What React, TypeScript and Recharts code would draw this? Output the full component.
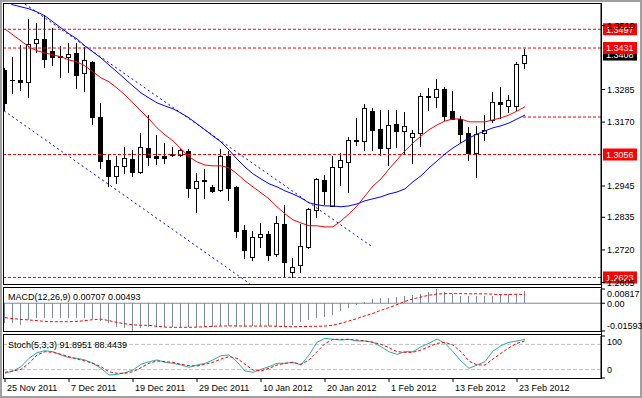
import { Bar, ComposedChart, Line, ReferenceLine, XAxis, YAxis } from 'recharts'

const FONT = "'Liberation Sans', Arial, sans-serif"

const dates = [
  '25 Nov 2011', '28 Nov 2011', '29 Nov 2011', '30 Nov 2011', '1 Dec 2011', '2 Dec 2011',
  '5 Dec 2011', '6 Dec 2011', '7 Dec 2011', '8 Dec 2011', '9 Dec 2011',
  '12 Dec 2011', '13 Dec 2011', '14 Dec 2011', '15 Dec 2011', '16 Dec 2011',
  '19 Dec 2011', '20 Dec 2011', '21 Dec 2011', '22 Dec 2011', '23 Dec 2011',
  '26 Dec 2011', '27 Dec 2011', '28 Dec 2011', '29 Dec 2011', '30 Dec 2011',
  '2 Jan 2012', '3 Jan 2012', '4 Jan 2012', '5 Jan 2012', '6 Jan 2012',
  '9 Jan 2012', '10 Jan 2012', '11 Jan 2012', '12 Jan 2012', '13 Jan 2012',
  '16 Jan 2012', '17 Jan 2012', '18 Jan 2012', '19 Jan 2012', '20 Jan 2012',
  '23 Jan 2012', '24 Jan 2012', '25 Jan 2012', '26 Jan 2012', '27 Jan 2012',
  '30 Jan 2012', '31 Jan 2012', '1 Feb 2012', '2 Feb 2012', '3 Feb 2012',
  '6 Feb 2012', '7 Feb 2012', '8 Feb 2012', '9 Feb 2012', '10 Feb 2012',
  '13 Feb 2012', '14 Feb 2012', '15 Feb 2012', '16 Feb 2012', '17 Feb 2012',
  '20 Feb 2012', '21 Feb 2012', '22 Feb 2012', '23 Feb 2012', '24 Feb 2012',
]

const open = [
  1.3354, 1.3319, 1.3319, 1.3313, 1.3448, 1.3462, 1.342, 1.3402, 1.3401, 1.3415, 1.3342,
  1.3382, 1.3187, 1.3037, 1.2981, 1.3014, 1.3041, 1.2996, 1.3078, 1.3052, 1.3052,
  1.3054, 1.3055, 1.3069, 1.2937, 1.2963, 1.2943, 1.2931, 1.3052, 1.2943, 1.2791,
  1.2694, 1.2765, 1.2776, 1.2705, 1.2811, 1.2644, 1.2667, 1.2731, 1.2861, 1.2967,
  1.2875, 1.3013, 1.3031, 1.3105, 1.3105, 1.3209, 1.3145, 1.308, 1.3163, 1.314,
  1.3116, 1.3131, 1.326, 1.3258, 1.3287, 1.3209, 1.318, 1.3131, 1.3063, 1.3131,
  1.3178, 1.3241, 1.3228, 1.3227, 1.3377,
]
const high = [
  1.3361, 1.3401, 1.3442, 1.3532, 1.352, 1.3547, 1.3501, 1.3438, 1.3448, 1.3448, 1.3434,
  1.3385, 1.3236, 1.3058, 1.3051, 1.3084, 1.3072, 1.3133, 1.3195, 1.3125, 1.3096,
  1.3084, 1.3075, 1.3075, 1.299, 1.3004, 1.2949, 1.3075, 1.307, 1.2945, 1.2808,
  1.2785, 1.2814, 1.2788, 1.284, 1.2878, 1.2692, 1.2811, 1.2867, 1.2972, 1.2984,
  1.3051, 1.3063, 1.3119, 1.3184, 1.3234, 1.3219, 1.3213, 1.3213, 1.3213, 1.3207,
  1.3143, 1.3274, 1.3289, 1.3321, 1.3293, 1.3281, 1.3192, 1.3152, 1.3157, 1.3195,
  1.3277, 1.3295, 1.3266, 1.3381, 1.3427,
]
const low = [
  1.3213, 1.3272, 1.3283, 1.3258, 1.3418, 1.3363, 1.3371, 1.333, 1.3348, 1.3289, 1.3281,
  1.3164, 1.3008, 1.2945, 1.2955, 1.2992, 1.2981, 1.2992, 1.3019, 1.3023, 1.3027,
  1.3049, 1.3049, 1.2908, 1.2855, 1.2902, 1.2925, 1.2928, 1.2896, 1.2767, 1.2691,
  1.2685, 1.273, 1.2685, 1.2697, 1.2625, 1.2623, 1.2644, 1.2726, 1.2837, 1.2882,
  1.2875, 1.2949, 1.2925, 1.309, 1.3072, 1.3072, 1.3055, 1.3019, 1.3084, 1.3063,
  1.3025, 1.3086, 1.3213, 1.3225, 1.3178, 1.318, 1.3101, 1.3037, 1.2976, 1.3107,
  1.3172, 1.3184, 1.3207, 1.3213, 1.336,
]
const close = [
  1.3238, 1.3317, 1.3313, 1.3445, 1.3462, 1.3391, 1.3398, 1.34, 1.341, 1.3336, 1.3389,
  1.3187, 1.3034, 1.2982, 1.3016, 1.3044, 1.2995, 1.3082, 1.3046, 1.3045, 1.3045,
  1.3058, 1.3072, 1.2937, 1.2963, 1.2965, 1.2929, 1.3051, 1.2939, 1.2788, 1.272,
  1.2767, 1.2776, 1.2703, 1.2814, 1.2678, 1.2661, 1.2734, 1.2863, 1.297, 1.2929,
  1.3011, 1.3037, 1.3107, 1.3107, 1.3219, 1.3143, 1.308, 1.316, 1.314, 1.3157,
  1.3131, 1.3262, 1.3262, 1.3286, 1.3193, 1.318, 1.3128, 1.3063, 1.3128, 1.3143,
  1.3242, 1.3233, 1.3248, 1.3375, 1.3408,
]

// red and blue moving averages as drawn on the chart
const maFast = [
  1.3498, 1.3477, 1.3456, 1.3435, 1.3421, 1.3414, 1.3407, 1.34, 1.3389, 1.3382, 1.3368,
  1.3347, 1.3326, 1.3312, 1.329, 1.3266, 1.3238, 1.3209, 1.3181, 1.315, 1.3125,
  1.3104, 1.3076, 1.3048, 1.303, 1.3019, 1.3016, 1.3016, 1.3009, 1.2988, 1.2963,
  1.2942, 1.2921, 1.29, 1.2872, 1.2847, 1.2826, 1.2815, 1.2805, 1.2805, 1.2801,
  1.2801, 1.2822, 1.2847, 1.2875, 1.291, 1.2945, 1.297, 1.3005, 1.3037, 1.3069,
  1.3097, 1.3121, 1.3143, 1.316, 1.3174, 1.3181, 1.3181, 1.3171, 1.3171, 1.3171,
  1.3178, 1.3185, 1.3195, 1.3209, 1.3224,
]
const maSlow = [
  1.3597, 1.3583, 1.3576, 1.3569, 1.3558, 1.3544, 1.3523, 1.3502, 1.3481, 1.3463, 1.3438,
  1.3417, 1.3396, 1.3371, 1.3347, 1.3322, 1.3297, 1.3273, 1.3255, 1.3238, 1.3227,
  1.3217, 1.3202, 1.3185, 1.3164, 1.3143, 1.3121, 1.31, 1.3072, 1.304, 1.3012,
  1.2988, 1.297, 1.2953, 1.2942, 1.2928, 1.2917, 1.2903, 1.2886, 1.2879, 1.2875,
  1.2875, 1.2872, 1.2875, 1.2882, 1.2893, 1.29, 1.2907, 1.2917, 1.2924, 1.2935,
  1.296, 1.2981, 1.3009, 1.3033, 1.3058, 1.3079, 1.3097, 1.3114, 1.3128, 1.3139,
  1.315, 1.3157, 1.3167, 1.3181, 1.3195,
]

const macdHist = [
  -0.0114, -0.0114, -0.0125, -0.0096, -0.0085, -0.0085, -0.0085, -0.0085, -0.0085, -0.0085, -0.0085,
  -0.0091, -0.0102, -0.0114, -0.0137, -0.0142, -0.0159, -0.0142, -0.0137, -0.0137, -0.0137,
  -0.0137, -0.0137, -0.0137, -0.0137, -0.0137, -0.0137, -0.0131, -0.0131, -0.0137, -0.0137,
  -0.0131, -0.0131, -0.0131, -0.0137, -0.0137, -0.0125, -0.0108, -0.0096, -0.0088, -0.0083,
  -0.0068, -0.0045, -0.0026, -0.001, 0.0009, 0.0022, 0.0028, 0.0032, 0.0036, 0.0043,
  0.0047, 0.0055, 0.0063, 0.00817, 0.0066, 0.0055, 0.0043, 0.004, 0.004, 0.0043,
  0.0043, 0.0047, 0.0053, 0.0055, 0.00707,
]
const macdSignal = [
  -0.0083, -0.0088, -0.0093, -0.0096, -0.01, -0.0104, -0.0106, -0.0106, -0.0106, -0.0104, -0.01,
  -0.0094, -0.0091, -0.01, -0.011, -0.0118, -0.0124, -0.0126, -0.0127, -0.0132, -0.0137,
  -0.0138, -0.0138, -0.0138, -0.0137, -0.0135, -0.0132, -0.0131, -0.013, -0.013, -0.0131,
  -0.0131, -0.0131, -0.0131, -0.0132, -0.0134, -0.0135, -0.0134, -0.0133, -0.0132, -0.0131,
  -0.0126, -0.0115, -0.0102, -0.0088, -0.0072, -0.0058, -0.004, -0.0025, -0.0008, 0.0011,
  0.0025, 0.0036, 0.0046, 0.0053, 0.0055, 0.0055, 0.0055, 0.0054, 0.0054, 0.0054,
  0.0052, 0.0049, 0.005, 0.0052, 0.00493,
]

const stochK = [
  11.2, 16.7, 26.9, 46.9, 60.2, 65, 62.6, 54.8, 48.3, 46.9, 42.9,
  35, 23.1, 7.1, 8.8, 12.6, 19, 32.6, 38.8, 42.9, 37.4,
  35, 31, 25.5, 31, 35, 42.9, 53.1, 54.8, 38.8, 16.7,
  13.6, 20.7, 26.9, 35, 35, 37.4, 31, 54.8, 85, 94.5,
  92.1, 90.5, 92.1, 88.1, 88.1, 85, 74.6, 62.6, 56.3, 62.6,
  62.6, 74.6, 82.5, 92.9, 82.5, 62.6, 40.5, 23.1, 31, 38.8,
  64.3, 77, 85, 88.1, 91.9,
]
const stochD = [
  13.6, 16.7, 20.7, 35, 54.8, 62.6, 61.1, 56.3, 50.8, 45.2, 40.5,
  35, 26.9, 15, 11.2, 11.2, 15, 24.6, 35, 40.5, 38.8,
  37.4, 32.6, 29.4, 28.6, 32.6, 37.4, 45.2, 50.8, 46.9, 32.6,
  19, 16.7, 23.1, 31, 35, 37.4, 32.6, 42.9, 62.6, 82,
  92.1, 92, 92, 90.5, 88.1, 85, 80.2, 72.2, 62.6, 61.1,
  61.1, 66.7, 74.6, 82.5, 85, 78.6, 62.6, 40.5, 31, 31,
  45.2, 58.7, 72.2, 82.5, 88.4,
]

const dateTicks = [0, 8, 16, 24, 32, 40, 48, 56, 64]
const priceTicks = [1.351, 1.3285, 1.317, 1.2945, 1.2835, 1.272, 1.2605]
const levels = [1.3497, 1.3431, 1.3056, 1.2623]
const lastPrice = 1.3408
const shortLevel = 1.3188
const macdTicks = [0.00817, 0, -0.01593]
const stochTicks = [100, 0]
const stochLevels = [80, 20]

// hand drawn channel (bar index, price)
const channelTop = [{ x: 2.5, y: 1.3586 }, { x: 45.9, y: 1.2731 }]
const channelBottom = [{ x: -0.125, y: 1.321 }, { x: 30.6, y: 1.2601 }]

const data = dates.map((date, i) => ({
  i,
  date,
  range: [low[i], high[i]],
  open: open[i],
  high: high[i],
  low: low[i],
  close: close[i],
  fast: maFast[i],
  slow: maSlow[i],
  macd: macdHist[i],
  signal: macdSignal[i],
  k: stochK[i],
  d: stochD[i],
}))

const X_DOMAIN: [number, number] = [-0.125, 74.5]

function Candle(props: any) {
  const { x, y, width, height, payload } = props
  const cx = Math.floor(x + width / 2) + 0.5
  const span = payload.high - payload.low
  const toY = (p: number) => y + ((payload.high - p) / span) * height
  const top = Math.round(toY(Math.max(payload.open, payload.close)))
  const bot = Math.round(toY(Math.min(payload.open, payload.close)))
  const up = payload.close >= payload.open
  return (
    <g>
      <line x1={cx} x2={cx} y1={Math.round(y)} y2={Math.round(y + height) + 1} stroke='#000' />
      {bot - top < 1 ? (
        <line x1={cx - 2.5} x2={cx + 2.5} y1={top + 0.5} y2={top + 0.5} stroke='#000' />
      ) : (
        <rect x={cx - 2} y={top + 0.5} width={4} height={bot - top} fill={up ? '#fff' : '#000'} stroke='#000' />
      )}
    </g>
  )
}

function HistBar(props: any) {
  const { x, y, width, height } = props
  const cx = Math.floor(x + width / 2)
  const top = Math.round(Math.min(y, y + height))
  const h = Math.max(Math.round(Math.abs(height)), 1)
  return <rect x={cx} y={top} width={1} height={h} fill='#7d8a98' />
}

const priceTag = (text: string, bg: string) => (props: any) => {
  const { viewBox } = props
  const x = viewBox.x + viewBox.width + 2
  const y = viewBox.y
  return (
    <g>
      <rect x={x} y={y - 6} width={34} height={12} fill={bg} />
      <text x={x + 3} y={y} dy={3.3} fill='#fff' fontSize={9} fontFamily={FONT}>
        {text}
      </text>
    </g>
  )
}

const sideTick = (format: (v: number) => string, shift: (v: number) => number) => (props: any) => {
  const { x, y, payload } = props
  return (
    <text x={x} y={y + shift(payload.value)} dy={3.3} fontSize={9} fontFamily={FONT} fill='#000'>
      {format(payload.value)}
    </text>
  )
}

function DateTick(props: any) {
  const { x, y, payload } = props
  return (
    <text x={x + 2} y={y} dy={7} fontSize={9} fontFamily={FONT} fill='#000'>
      {dates[payload.value]}
    </text>
  )
}

const box = (top: number, height: number): React.CSSProperties => ({
  position: 'absolute',
  left: 3,
  top,
  width: 599,
  height,
  boxSizing: 'border-box',
  border: '1px solid #000',
})

const caption: React.CSSProperties = {
  position: 'absolute',
  left: 8,
  fontFamily: FONT,
  fontSize: 9,
  lineHeight: '11px',
  color: '#000',
  whiteSpace: 'nowrap',
}

export default function App() {
  return (
    <div style={{ position: 'absolute', left: 0, top: 0, width: 642, height: 398, background: '#fff', overflow: 'hidden' }}>
      <div style={{ position: 'absolute', inset: 0, border: '2px solid #a0a0a0' }} />
      <div style={box(3, 282)} />
      <div style={box(287, 45)} />
      <div style={box(334, 45)} />
      <div style={{ position: 'absolute', left: 601, top: 3, width: 1, height: 376, background: '#000' }} />

      <div style={{ position: 'absolute', left: 0, top: 0 }}>
        <ComposedChart width={642} height={290} data={data} margin={{ top: 4, right: 0, left: 4, bottom: 6 }}>
          <XAxis type='number' dataKey='i' domain={X_DOMAIN} allowDataOverflow hide />
          <YAxis
            orientation='right'
            domain={[1.26, 1.3586]}
            allowDataOverflow
            ticks={priceTicks}
            interval={0}
            width={41}
            axisLine={{ stroke: '#000' }}
            tickLine={{ stroke: '#000' }}
            tickSize={4}
            tickMargin={2}
            tick={{ fontSize: 9, fill: '#000', fontFamily: FONT }}
            tickFormatter={(v: number) => v.toFixed(4)}
          />
          <ReferenceLine y={lastPrice} stroke='none' label={priceTag(lastPrice.toFixed(4), '#000')} />
          {levels.map((v) => (
            <ReferenceLine key={v} y={v} stroke='#ff0000' strokeDasharray='3 2' label={priceTag(v.toFixed(4), '#ff0000')} />
          ))}
          <ReferenceLine
            segment={[{ x: 64.75, y: shortLevel }, { x: 74.5, y: shortLevel }]}
            stroke='#ff0000'
            strokeDasharray='3 2'
            ifOverflow='hidden'
          />
          <ReferenceLine segment={channelTop} stroke='#0000ff' strokeDasharray='2 3' ifOverflow='hidden' />
          <ReferenceLine segment={channelBottom} stroke='#0000ff' strokeDasharray='2 3' ifOverflow='hidden' />
          <Line type='linear' dataKey='slow' stroke='#0000ff' strokeWidth={1} dot={false} isAnimationActive={false} />
          <Line type='linear' dataKey='fast' stroke='#ff0000' strokeWidth={1} dot={false} isAnimationActive={false} />
          <Bar dataKey='range' barSize={5} shape={Candle} isAnimationActive={false} />
        </ComposedChart>
      </div>

      <div style={{ position: 'absolute', left: 0, top: 287 }}>
        <ComposedChart width={642} height={45} data={data} margin={{ top: 2, right: 0, left: 4, bottom: 1 }}>
          <XAxis type='number' dataKey='i' domain={X_DOMAIN} allowDataOverflow hide />
          <YAxis
            orientation='right'
            domain={[-0.01593, 0.00817]}
            allowDataOverflow
            ticks={macdTicks}
            interval={0}
            width={41}
            axisLine={{ stroke: '#000' }}
            tickLine={{ stroke: '#000' }}
            tickSize={4}
            tickMargin={2}
            tick={sideTick(
              (v) => (v === 0 ? '0.00' : v.toFixed(5)),
              (v) => (v > 0 ? 5 : v < 0 ? -5 : 0)
            )}
          />
          <ReferenceLine y={0} stroke='#7d8a98' />
          <Bar dataKey='macd' barSize={1} shape={HistBar} isAnimationActive={false} />
          <Line type='linear' dataKey='signal' stroke='#ff0000' strokeDasharray='3 2' dot={false} isAnimationActive={false} />
        </ComposedChart>
      </div>
      <div style={{ ...caption, top: 292 }}>MACD(12,26,9) 0.00707 0.00493</div>

      <div style={{ position: 'absolute', left: 0, top: 334 }}>
        <ComposedChart width={642} height={64} data={data} margin={{ top: 2, right: 0, left: 4, bottom: 0 }}>
          <XAxis
            type='number'
            dataKey='i'
            domain={X_DOMAIN}
            allowDataOverflow
            ticks={dateTicks}
            interval={0}
            height={20}
            axisLine={false}
            tickLine={{ stroke: '#000' }}
            tickSize={4}
            tickMargin={2}
            tick={DateTick}
          />
          <YAxis
            orientation='right'
            domain={[0, 100]}
            allowDataOverflow
            ticks={stochTicks}
            interval={0}
            width={41}
            axisLine={{ stroke: '#000' }}
            tickLine={{ stroke: '#000' }}
            tickSize={4}
            tickMargin={2}
            tick={sideTick(
              (v) => String(v),
              (v) => (v > 50 ? 6 : -8)
            )}
          />
          {stochLevels.map((v) => (
            <ReferenceLine key={v} y={v} stroke='#c0c0c0' strokeDasharray='4 2' />
          ))}
          <Line type='linear' dataKey='k' stroke='#20b2aa' strokeWidth={1} dot={false} isAnimationActive={false} />
          <Line type='linear' dataKey='d' stroke='#ff0000' strokeDasharray='3 2' dot={false} isAnimationActive={false} />
        </ComposedChart>
      </div>
      <div style={{ ...caption, top: 340 }}>Stoch(5,3,3) 91.8951 88.4439</div>
    </div>
  )
}
